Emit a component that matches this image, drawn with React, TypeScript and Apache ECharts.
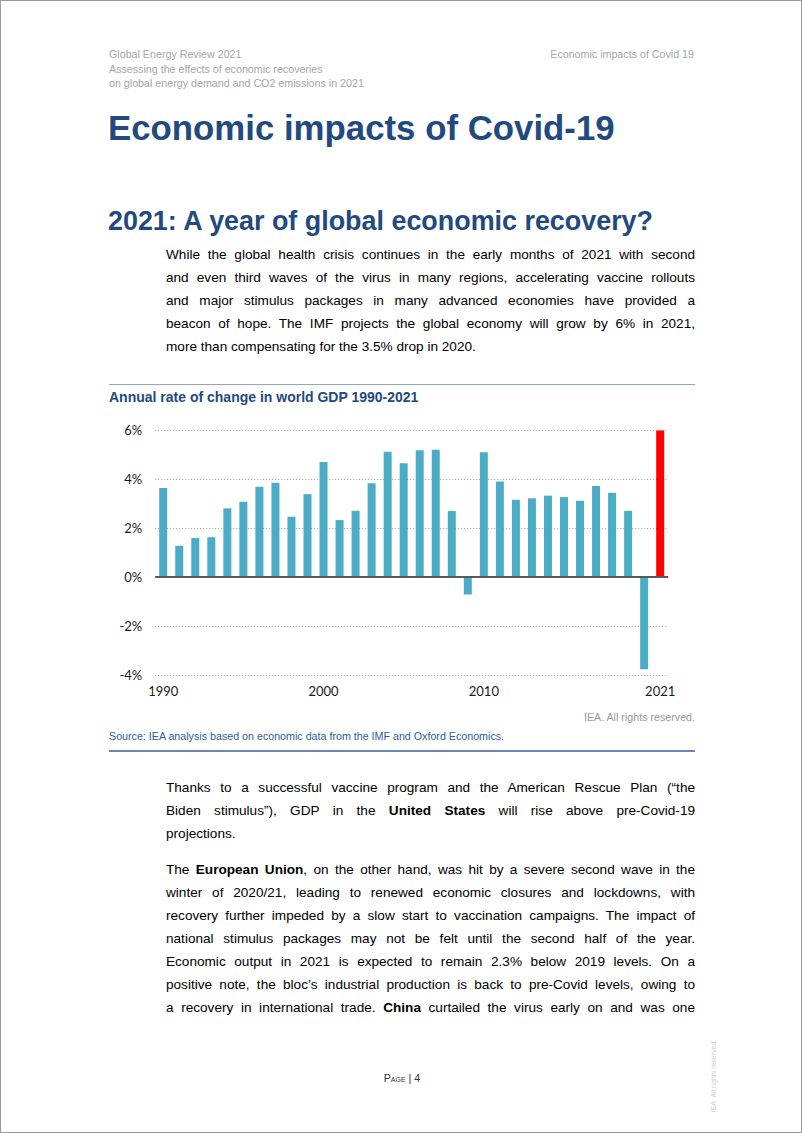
import React, { useEffect, useRef } from "react";
import * as echarts from "echarts";

const years = ["1990","1991","1992","1993","1994","1995","1996","1997","1998","1999","2000","2001","2002","2003","2004","2005","2006","2007","2008","2009","2010","2011","2012","2013","2014","2015","2016","2017","2018","2019","2020","2021"];
const gdpGrowth = [3.64,1.28,1.60,1.63,2.81,3.08,3.69,3.86,2.47,3.39,4.70,2.33,2.71,3.84,5.12,4.65,5.18,5.21,2.70,-0.71,5.10,3.91,3.16,3.22,3.33,3.27,3.12,3.72,3.45,2.71,-3.77,5.99];
const highlightYear = "2021";
const labelYears = ["1990","2000","2010","2021"];
const yTicks = { min: -4, max: 6, interval: 2 };

const chartTitle = "Annual rate of change in world GDP 1990-2021";
const rightsText = "IEA. All rights reserved.";
const sourceText = "Source: IEA analysis based on economic data from the IMF and Oxford Economics.";

const BLUE = "#4BACC6";
const RED = "#FF0000";
const NAVY = "#234A7E";

type Seg = { t: string; b?: boolean };
type Line = { y: number; segs: Seg[]; last?: boolean };

const para1: Line[] = [
  { y: 253, segs: [{ t: "While the global health crisis continues in the early months of 2021 with second" }] },
  { y: 276, segs: [{ t: "and even third waves of the virus in many regions, accelerating vaccine rollouts" }] },
  { y: 299, segs: [{ t: "and major stimulus packages in many advanced economies have provided a" }] },
  { y: 322, segs: [{ t: "beacon of hope. The IMF projects the global economy will grow by 6% in 2021," }] },
  { y: 345, segs: [{ t: "more than compensating for the 3.5% drop in 2020." }], last: true },
];
const para2: Line[] = [
  { y: 786, segs: [{ t: "Thanks to a successful vaccine program and the American Rescue Plan (\u201cthe" }] },
  { y: 809, segs: [{ t: "Biden stimulus\u201d), GDP in the " }, { t: "United States", b: true }, { t: " will rise above pre-Covid-19" }] },
  { y: 832, segs: [{ t: "projections." }], last: true },
  { y: 868, segs: [{ t: "The " }, { t: "European Union", b: true }, { t: ", on the other hand, was hit by a severe second wave in the" }] },
  { y: 891, segs: [{ t: "winter of 2020/21, leading to renewed economic closures and lockdowns, with" }] },
  { y: 914, segs: [{ t: "recovery further impeded by a slow start to vaccination campaigns. The impact of" }] },
  { y: 937, segs: [{ t: "national stimulus packages may not be felt until the second half of the year." }] },
  { y: 960, segs: [{ t: "Economic output in 2021 is expected to remain 2.3% below 2019 levels. On a" }] },
  { y: 983, segs: [{ t: "positive note, the bloc\u2019s industrial production is back to pre-Covid levels, owing to" }] },
  { y: 1006, segs: [{ t: "a recovery in international trade. " }, { t: "China", b: true }, { t: " curtailed the virus early on and was one" }] },
];

function TextLine({ line }: { line: Line }) {
  return (
    <div
      style={{
        position: "absolute",
        left: 165,
        width: 529,
        top: line.y - 11.5,
        height: 23,
        lineHeight: "23px",
        fontSize: 13.6,
        color: "#000",
        textAlign: line.last ? "left" : "justify",
        textAlignLast: line.last ? "left" : "justify",
      } as React.CSSProperties}
    >
      {line.segs.map((s, i) => (
        <span key={i} style={{ fontWeight: s.b ? "bold" : "normal" }}>{s.t}</span>
      ))}
    </div>
  );
}

function Chart() {
  const ref = useRef<HTMLDivElement>(null);
  useEffect(() => {
    if (!ref.current) return;
    const chart = echarts.init(ref.current, null, { renderer: "svg" });
    const data = gdpGrowth.map((v, i) =>
      years[i] === highlightYear ? { value: v, itemStyle: { color: RED } } : v
    );
    chart.setOption({
      animation: false,
      grid: { left: 54.2, right: 34.8, top: 54.3, bottom: 86 },
      graphic: [
        { type: "line", shape: { x1: 8, y1: 8.5, x2: 594, y2: 8.5 }, style: { stroke: "#8FA8C2", lineWidth: 1 } },
        { type: "text", x: 8, y: 21, style: { text: chartTitle, font: "bold 14px 'Liberation Sans', Arial, sans-serif", fill: NAVY, verticalAlign: "middle" } },
        { type: "text", x: 594, y: 341, style: { text: rightsText, font: "10.7px 'Liberation Sans', Arial, sans-serif", fill: "#9a9a9a", align: "right", verticalAlign: "middle" } },
        { type: "text", x: 8, y: 360, style: { text: sourceText, font: "10.7px 'Liberation Sans', Arial, sans-serif", fill: "#2E5C9A", verticalAlign: "middle" } },
        { type: "line", shape: { x1: 8, y1: 375, x2: 594, y2: 375 }, style: { stroke: "#3C5F96", lineWidth: 1.5 } },
      ],
      xAxis: {
        type: "category",
        data: years,
        boundaryGap: true,
        axisLine: { show: false },
        axisTick: { show: false },
        splitLine: { show: false },
        axisLabel: {
          interval: (_i: number, v: string) => labelYears.includes(v),
          margin: 9,
          fontFamily: "Lato",
          fontSize: 13,
          color: "#1a1a1a",
        },
      },
      yAxis: {
        type: "value",
        min: yTicks.min,
        max: yTicks.max,
        interval: yTicks.interval,
        axisLine: { show: false },
        axisTick: { show: false },
        axisLabel: { formatter: (v: number) => `${v}%`, margin: 13, fontFamily: "Lato", fontSize: 13, color: "#1a1a1a" },
        splitLine: { show: true, lineStyle: { color: "#9a9a9a", type: [1, 2], width: 1 } },
      },
      series: [
        {
          type: "bar",
          data,
          barWidth: 8,
          itemStyle: { color: BLUE },
          markLine: {
            silent: true,
            symbol: "none",
            label: { show: false },
            lineStyle: { color: "#595959", width: 2, type: "solid" },
            data: [{ yAxis: 0 }],
          },
        },
      ],
    });
    return () => chart.dispose();
  }, []);
  return <div ref={ref} style={{ position: "absolute", left: 100, top: 375, width: 602, height: 385 }} />;
}

export default function App() {
  const hdr: React.CSSProperties = { position: "absolute", fontSize: 10.7, color: "#a6a6a6", lineHeight: "14.5px" };
  return (
    <div
      style={{
        position: "absolute",
        left: 0,
        top: 0,
        width: 802,
        height: 1133,
        boxSizing: "border-box",
        border: "1px solid #9a9a9a",
        background: "#fff",
        fontFamily: "'Liberation Sans', Arial, sans-serif",
        overflow: "hidden",
      }}
    >
      <div style={{ ...hdr, left: 108, top: 46 }}>
        Global Energy Review 2021<br />Assessing the effects of economic recoveries<br />on global energy demand and CO2 emissions in 2021
      </div>
      <div style={{ ...hdr, right: 107, top: 46, textAlign: "right" }}>Economic impacts of Covid 19</div>
      <div style={{ position: "absolute", left: 107, top: 107, fontSize: 34.8, fontWeight: "bold", color: NAVY, lineHeight: "40px" }}>
        Economic impacts of Covid-19
      </div>
      <div style={{ position: "absolute", left: 107, top: 204, fontSize: 26.9, fontWeight: "bold", color: NAVY, lineHeight: "32px" }}>
        2021: A year of global economic recovery?
      </div>
      {para1.map((l, i) => <TextLine key={"a" + i} line={l} />)}
      <Chart />
      {para2.map((l, i) => <TextLine key={"b" + i} line={l} />)}
      <div style={{ position: "absolute", left: 0, width: 802, top: 1070, textAlign: "center", fontSize: 10.7, color: "#333", lineHeight: "14px" }}>
        <span style={{ fontVariant: "small-caps" }}>Page</span> | 4
      </div>
      <div
        style={{
          position: "absolute",
          left: 713 - 40,
          top: 1075 - 5,
          width: 80,
          height: 10,
          fontSize: 7,
          lineHeight: "10px",
          color: "#cfcfcf",
          textAlign: "center",
          transform: "rotate(-90deg)",
          whiteSpace: "nowrap",
        }}
      >
        IEA. All rights reserved.
      </div>
    </div>
  );
}
